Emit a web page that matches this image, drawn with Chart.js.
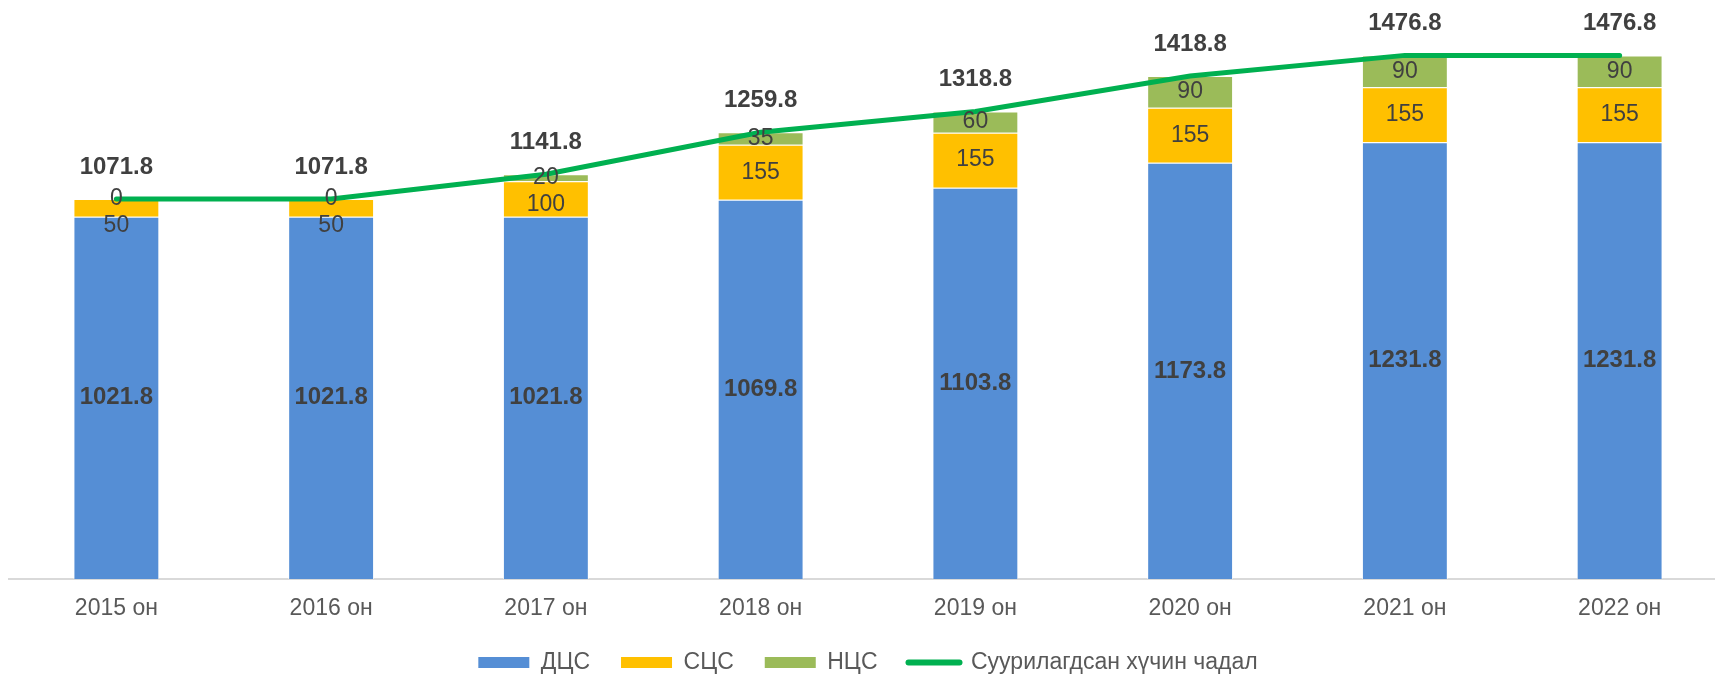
<!DOCTYPE html>
<html>
<head>
<meta charset="utf-8">
<title>Суурилагдсан хүчин чадал</title>
<script src="https://cdn.jsdelivr.net/npm/chart.js@4/dist/chart.umd.min.js"></script>
<style>
    html, body { margin: 0; padding: 0; background: #fff; overflow: hidden; }
    #chart-wrap { position: relative; width: 1727px; height: 674px; }
</style>
</head>
<body>
<div id="chart-wrap"><canvas id="capacity-chart"></canvas></div>
<script>
var categories = ['2015 он', '2016 он', '2017 он', '2018 он', '2019 он', '2020 он', '2021 он', '2022 он'];
var dcsValues = [1021.8, 1021.8, 1021.8, 1069.8, 1103.8, 1173.8, 1231.8, 1231.8];
var scsValues = [50, 50, 100, 155, 155, 155, 155, 155];
var ncsValues = [0, 0, 20, 35, 60, 90, 90, 90];
var totalValues = [1071.8, 1071.8, 1141.8, 1259.8, 1318.8, 1418.8, 1476.8, 1476.8];
var seriesNames = ['ДЦС', 'СЦС', 'НЦС', 'Суурилагдсан хүчин чадал'];

(function() {
    'use strict';

    var FONT = '"Liberation Sans", Arial, sans-serif';
    var LABEL_COLOR = '#404040';

    // Value labels for the stacked segments and the total line
    var labelPlugin = {
        id: 'valueLabels',
        afterDatasetsDraw: function(chart) {
            var ctx = chart.ctx;
            var blue = chart.getDatasetMeta(0).data;
            var yellow = chart.getDatasetMeta(1).data;
            var green = chart.getDatasetMeta(2).data;
            var line = chart.getDatasetMeta(3).data;

            ctx.save();
            ctx.textAlign = 'center';
            ctx.textBaseline = 'middle';
            ctx.fillStyle = LABEL_COLOR;

            for (var i = 0; i < categories.length; i++) {
                var b = blue[i], y = yellow[i], g = green[i], p = line[i];

                ctx.font = 'bold 24px ' + FONT;
                ctx.fillText(dcsValues[i].toFixed(1), b.x, (b.y + b.base) / 2);
                ctx.fillText(totalValues[i].toFixed(1), p.x, p.y - 32);

                ctx.font = '23px ' + FONT;
                var gy = (g.y + g.base) / 2;
                var yy = Math.max((y.y + y.base) / 2, gy + 27);
                ctx.fillText(String(ncsValues[i]), g.x, gy);
                ctx.fillText(String(scsValues[i]), y.x, yy);
            }
            ctx.restore();
        }
    };

    // Move the legend row up to where the original has it
    var legendShift = {
        id: 'legendShift',
        afterLayout: function(chart) {
            if (chart.legend) {
                chart.legend.top -= 19;
                chart.legend.bottom -= 19;
            }
        }
    };

    function barSet(label, data, color) {
        return {
            type: 'bar',
            label: label,
            data: data,
            backgroundColor: color,
            borderColor: 'rgba(255,255,255,0.7)',
            borderWidth: 1,
            stack: 'cap',
            order: 1,
            categoryPercentage: 1,
            barPercentage: 0.4
        };
    }

    var canvas = document.getElementById('capacity-chart');

    new Chart(canvas, {
        data: {
            labels: categories,
            datasets: [
                barSet(seriesNames[0], dcsValues, '#558ED5'),
                barSet(seriesNames[1], scsValues, '#FFC000'),
                barSet(seriesNames[2], ncsValues, '#9BBB59'),
                {
                    type: 'line',
                    label: seriesNames[3],
                    data: totalValues,
                    borderColor: '#00B050',
                    backgroundColor: '#00B050',
                    borderWidth: 5,
                    borderCapStyle: 'round',
                    pointRadius: 0,
                    tension: 0,
                    order: 0
                }
            ]
        },
        options: {
            responsive: true,
            maintainAspectRatio: false,
            animation: false,
            layout: {
                padding: { left: 9, right: 0, top: 0, bottom: -29 }
            },
            plugins: {
                tooltip: { enabled: false },
                legend: {
                    position: 'bottom',
                    labels: {
                        color: '#595959',
                        font: { family: FONT, size: 23 },
                        usePointStyle: true,
                        pointStyleWidth: 51,
                        boxHeight: 11,
                        padding: 31,
                        sort: function(a, b) {
                            return a.datasetIndex - b.datasetIndex;
                        },
                        generateLabels: function(chart) {
                            var items = Chart.defaults.plugins.legend.labels.generateLabels(chart);
                            items.forEach(function(item) {
                                if (item.datasetIndex === 3) {
                                    item.pointStyle = 'line';
                                    item.lineWidth = 6;
                                    item.lineCap = 'round';
                                } else {
                                    item.pointStyle = 'rect';
                                    item.lineWidth = 0;
                                }
                            });
                            return items;
                        }
                    }
                }
            },
            scales: {
                x: {
                    stacked: true,
                    grid: { display: false },
                    border: { display: true, color: '#D9D9D9', width: 2 },
                    ticks: {
                        color: '#595959',
                        font: { family: FONT, size: 23 },
                        padding: 8
                    },
                    afterFit: function(scale) {
                        scale.height = 60;
                    }
                },
                y: {
                    stacked: true,
                    display: false,
                    min: 0,
                    max: 1633
                }
            }
        },
        plugins: [labelPlugin, legendShift]
    });
})();
</script>
</body>
</html>
